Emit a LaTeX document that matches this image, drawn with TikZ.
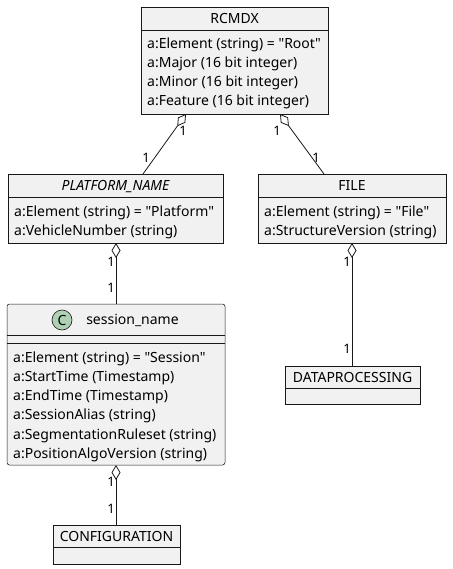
\documentclass[tikz,border=0pt]{standalone}
\usepackage{fontspec}
\setmainfont{Noto Sans}[Ligatures=TeXOff]
\usetikzlibrary{arrows.meta,calc}
\definecolor{boxfill}{HTML}{F1F1F1}
\definecolor{boxline}{HTML}{181818}
\definecolor{spotfill}{HTML}{ADD1B2}
\tikzset{
  classbox/.style={draw=boxline,fill=boxfill,line width=0.5pt,inner sep=0pt,outer sep=0pt},
  boxsep/.style={draw=boxline,line width=0.5pt},
  title/.style={anchor=base,inner sep=0pt,font=\fontsize{14}{16}\selectfont},
  attr/.style={anchor=base west,inner sep=0pt,font=\fontsize{14}{16}\selectfont},
  mult/.style={inner sep=0pt,font=\fontsize{13}{15}\selectfont},
  aggr/.style={draw=boxline,line width=0.8pt,arrows={Diamond[fill=white,length=15pt,width=9pt,line width=0.8pt]-}}
}
\newcommand{\umlclass}[9][]{
  \node[classbox,minimum width={(#5-#3)*1pt},minimum height={(#7-#4)*1pt},#1] (#2) at ({(#3+#5)/2},{(#4+#7)/2}) {};
  \draw[boxsep] (#3,#6)--(#5,#6);
  \node[title] (#2-title) at (#8,{(#4+#6)/2+5}) {#9};
}
\begin{document}
\begin{tikzpicture}[x=1pt,y=-1pt]
  \useasboundingbox (0,0) rectangle (452,569);
  % classes
  \umlclass{rcmdx}{141}{7}{328}{30}{114}{234.5}{RCMDX}
  \foreach \txt [count=\i] in {{a:Element (string) = "Root"},{a:Major (16 bit integer)},{a:Minor (16 bit integer)},{a:Feature (16 bit integer)}}
    \node[attr] (rcmdx-a\i) at (147,{49+19*(\i-1)}) {\txt};
  \umlclass{platform}{8}{174}{223}{197}{243}{115.5}{\itshape PLATFORM\_NAME}
  \foreach \txt [count=\i] in {{a:Element (string) = "Platform"},{a:VehicleNumber (string)}}
    \node[attr] (platform-a\i) at (14,{216+19*(\i-1)}) {\txt};
  \umlclass{file}{258}{174}{446}{197}{243}{352}{FILE}
  \foreach \txt [count=\i] in {{a:Element (string) = "File"},{a:StructureVersion (string)}}
    \node[attr] (file-a\i) at (264,{216+19*(\i-1)}) {\txt};
  \umlclass[rounded corners=2.5pt]{session}{7}{304}{225}{335}{465}{132.5}{session\_name}
  \draw[boxsep] (7,343)--(225,343);
  \node[draw=boxline,fill=spotfill,circle,minimum size=20pt,inner sep=0pt,line width=0.6pt,font=\bfseries\fontsize{14}{16}\selectfont] (session-spot) at (62,320) {C};
  \foreach \txt [count=\i] in {{a:Element (string) = "Session"},{a:StartTime (Timestamp)},{a:EndTime (Timestamp)},{a:SessionAlias (string)},{a:SegmentationRuleset (string)},{a:PositionAlgoVersion (string)}}
    \node[attr] (session-a\i) at (13,{362+19.3*(\i-1)}) {\txt};
  \umlclass{data}{285}{366}{420}{388}{404}{352.5}{DATAPROCESSING}
  \umlclass{config}{53}{525}{180}{547}{564}{116.5}{CONFIGURATION}
  % aggregations
  \draw[aggr] ($(rcmdx.south west)+(45,0)$) -- ($(platform.north west)+(135,0)$);
  \draw[aggr] ($(rcmdx.south west)+(139,0)$) -- ($(file.north west)+(66,0)$);
  \draw[aggr] ($(platform.south west)+(108,0)$) -- ($(session.north west)+(109,0)$);
  \draw[aggr] ($(file.south west)+(94,0)$) -- ($(data.north west)+(67,0)$);
  \draw[aggr] ($(session.south west)+(109,0)$) -- ($(config.north west)+(63,0)$);
  % multiplicities
  \node[mult] (m-rp1) at (183,131) {1};
  \node[mult] (m-rp2) at (146,158) {1};
  \node[mult] (m-rf1) at (277,131) {1};
  \node[mult] (m-rf2) at (316,158) {1};
  \node[mult] (m-ps1) at (111,262) {1};
  \node[mult] (m-ps2) at (111,288) {1};
  \node[mult] (m-fd1) at (347,262) {1};
  \node[mult] (m-fd2) at (347,349) {1};
  \node[mult] (m-sc1) at (111,482) {1};
  \node[mult] (m-sc2) at (111,509) {1};
\end{tikzpicture}
\end{document}
